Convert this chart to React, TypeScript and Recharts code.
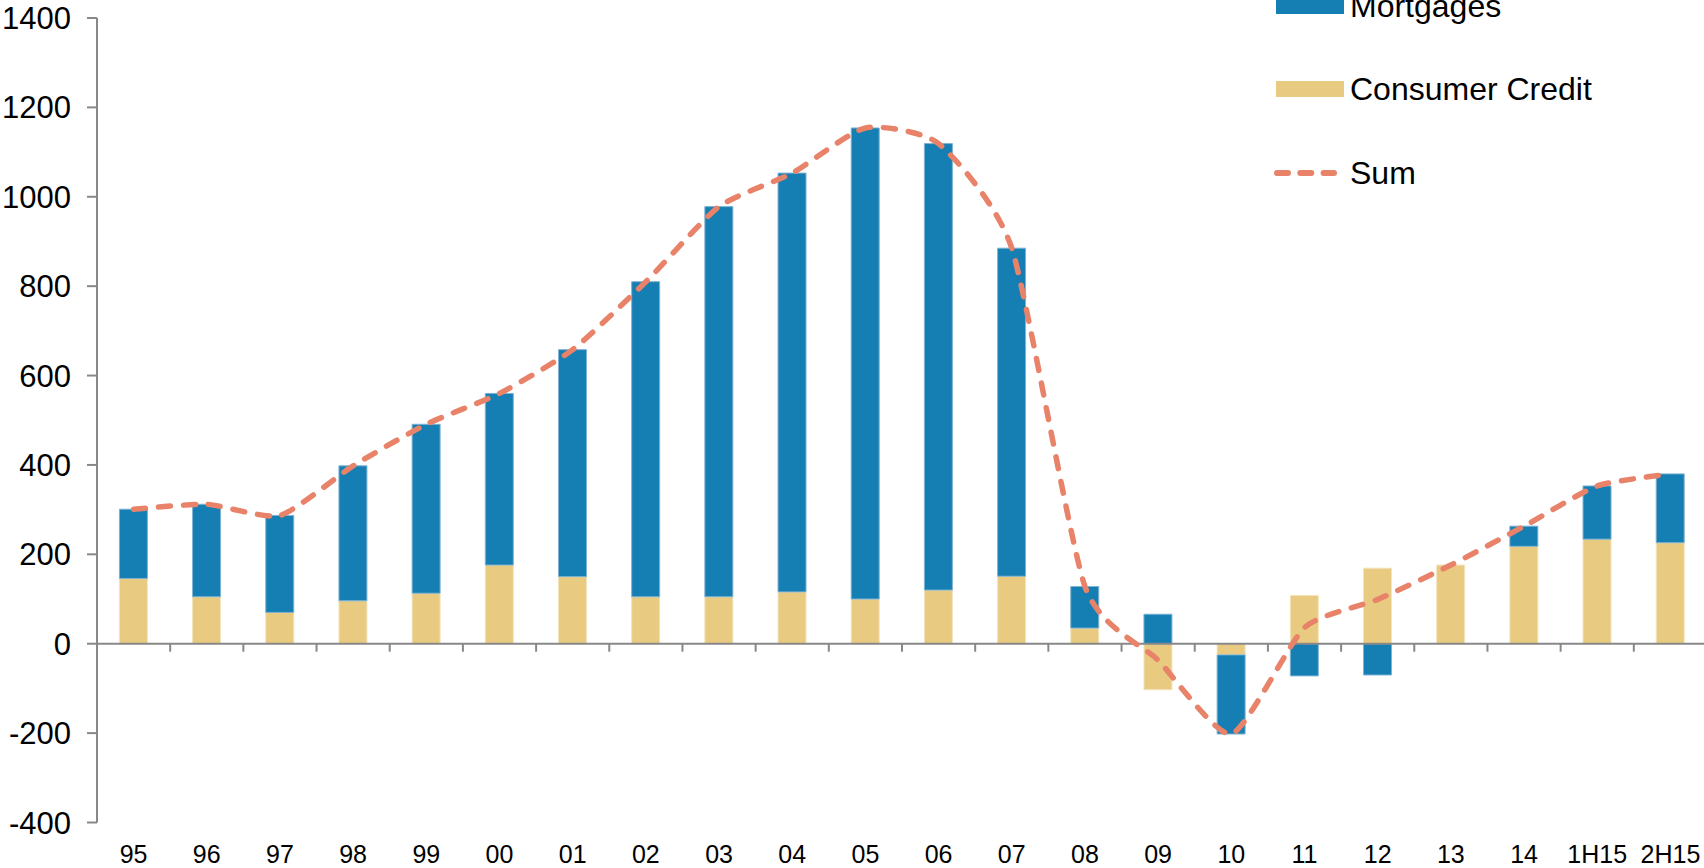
import React from 'react';
import { ComposedChart, Bar, Line, XAxis, YAxis, ReferenceLine } from 'recharts';

const categories = ['95', '96', '97', '98', '99', '00', '01', '02', '03', '04', '05', '06', '07', '08', '09', '10', '11', '12', '13', '14', '1H15', '2H15'];
const mortgages = [155, 207, 217, 302, 378, 384, 508, 705, 873, 937, 1054, 999, 734, 93, 66, -177, -72, -70, 0, 45, 119, 154];
const consumerCredit = [146, 105, 70, 96, 113, 176, 150, 105, 105, 116, 100, 120, 151, 35, -103, -25, 108, 169, 176, 218, 234, 226];
const sum = [301, 312, 287, 398, 491, 560, 658, 810, 978, 1053, 1154, 1119, 885, 128, -37, -202, 36, 99, 176, 263, 353, 380];
const yTicks = [-400, -200, 0, 200, 400, 600, 800, 1000, 1200, 1400];

const data = categories.map((cat, i) => ({
  cat,
  mortgages: mortgages[i],
  consumer: consumerCredit[i],
  sum: sum[i],
}));

const BLUE = '#157eb2';
const TAN = '#e8cb80';
const ORANGE = '#e8836a';
const AXIS = '#888888';
const FONT = '"Liberation Sans", Arial, sans-serif';

// layout
const W = 1712;
const H = 868;
const MARGIN = { top: 18, right: 5, bottom: 0, left: 0 };
const Y_AXIS_W = 97;
const X_AXIS_H = 45.5;
const Y_MIN = -400;
const Y_MAX = 1400;
const PLOT_H = H - MARGIN.top - MARGIN.bottom - X_AXIS_H;
const PLOT_W = W - MARGIN.left - MARGIN.right - Y_AXIS_W;
const BAND = PLOT_W / categories.length;
const ZERO_Y = MARGIN.top + (PLOT_H * (Y_MAX - 0)) / (Y_MAX - Y_MIN);

// lightly smoothed line: cubic bezier through every point, short tangents from neighbours
const TENSION = 0.1;
function smoothCurve(context: any) {
  let pts: [number, number][] = [];
  return {
    areaStart() {},
    areaEnd() {},
    lineStart() {
      pts = [];
    },
    point(x: number, y: number) {
      pts.push([+x, +y]);
    },
    lineEnd() {
      if (!pts.length) return;
      context.moveTo(pts[0][0], pts[0][1]);
      for (let i = 0; i < pts.length - 1; i++) {
        const p0 = pts[Math.max(i - 1, 0)];
        const p1 = pts[i];
        const p2 = pts[i + 1];
        const p3 = pts[Math.min(i + 2, pts.length - 1)];
        context.bezierCurveTo(
          p1[0] + (p2[0] - p0[0]) * TENSION,
          p1[1] + (p2[1] - p0[1]) * TENSION,
          p2[0] - (p3[0] - p1[0]) * TENSION,
          p2[1] - (p3[1] - p1[1]) * TENSION,
          p2[0],
          p2[1]
        );
      }
    },
  };
}

const CategoryTick = (props: any) => {
  const { x, payload, index } = props;
  const left = x - BAND / 2;
  return (
    <g>
      {index > 0 && <line x1={left} x2={left} y1={ZERO_Y} y2={ZERO_Y + 8} stroke={AXIS} strokeWidth={2} />}
      <text x={x} y={863} textAnchor="middle" fontSize={25} fontFamily={FONT} fill="#000">
        {payload.value}
      </text>
    </g>
  );
};

const LegendBox = () => (
  <svg width={430} height={200} style={{ position: 'absolute', left: 1274, top: 0 }}>
    <rect x={2} y={-2} width={68} height={16} fill={BLUE} />
    <text x={76} y={16.5} fontSize={32} fontFamily={FONT} fill="#000">Mortgages</text>
    <rect x={2} y={81} width={68} height={16} fill={TAN} />
    <text x={76} y={100} fontSize={32} fontFamily={FONT} fill="#000">Consumer Credit</text>
    <line x1={3} x2={60} y1={173} y2={173} stroke={ORANGE} strokeWidth={6} strokeDasharray="11 12.3" strokeLinecap="round" />
    <text x={76} y={183.5} fontSize={32} fontFamily={FONT} fill="#000">Sum</text>
  </svg>
);

export default function App() {
  return (
    <div style={{ position: 'fixed', left: 0, top: 0, width: 1704, height: 868, overflow: 'hidden', background: '#fff' }}>
      <ComposedChart width={W} height={H} data={data} margin={MARGIN} stackOffset="sign" barCategoryGap="30.6%">
        <XAxis
          dataKey="cat"
          interval={0}
          height={X_AXIS_H}
          axisLine={false}
          tickLine={false}
          tickSize={0}
          tickMargin={0}
          tick={<CategoryTick />}
        />
        <YAxis
          width={Y_AXIS_W}
          domain={[Y_MIN, Y_MAX]}
          ticks={yTicks}
          interval={0}
          allowDataOverflow
          axisLine={{ stroke: AXIS, strokeWidth: 2 }}
          tickLine={{ stroke: AXIS, strokeWidth: 2 }}
          tickSize={10}
          tickMargin={16}
          tick={{ fontSize: 31, fill: '#000', fontFamily: FONT }}
        />
        <Bar dataKey="consumer" name="Consumer Credit" stackId="a" fill={TAN} stroke="#f3e4bd" strokeWidth={1} isAnimationActive={false} />
        <Bar dataKey="mortgages" name="Mortgages" stackId="a" fill={BLUE} stroke="#7fb3d3" strokeWidth={1} isAnimationActive={false} />
        <ReferenceLine y={0} stroke={AXIS} strokeWidth={2} />
        <Line
          dataKey="sum"
          name="Sum"
          type={smoothCurve as any}
          stroke={ORANGE}
          strokeWidth={5.5}
          strokeDasharray="12 13"
          strokeLinecap="round"
          dot={false}
          activeDot={false}
          isAnimationActive={false}
        />
      </ComposedChart>
      <LegendBox />
    </div>
  );
}
